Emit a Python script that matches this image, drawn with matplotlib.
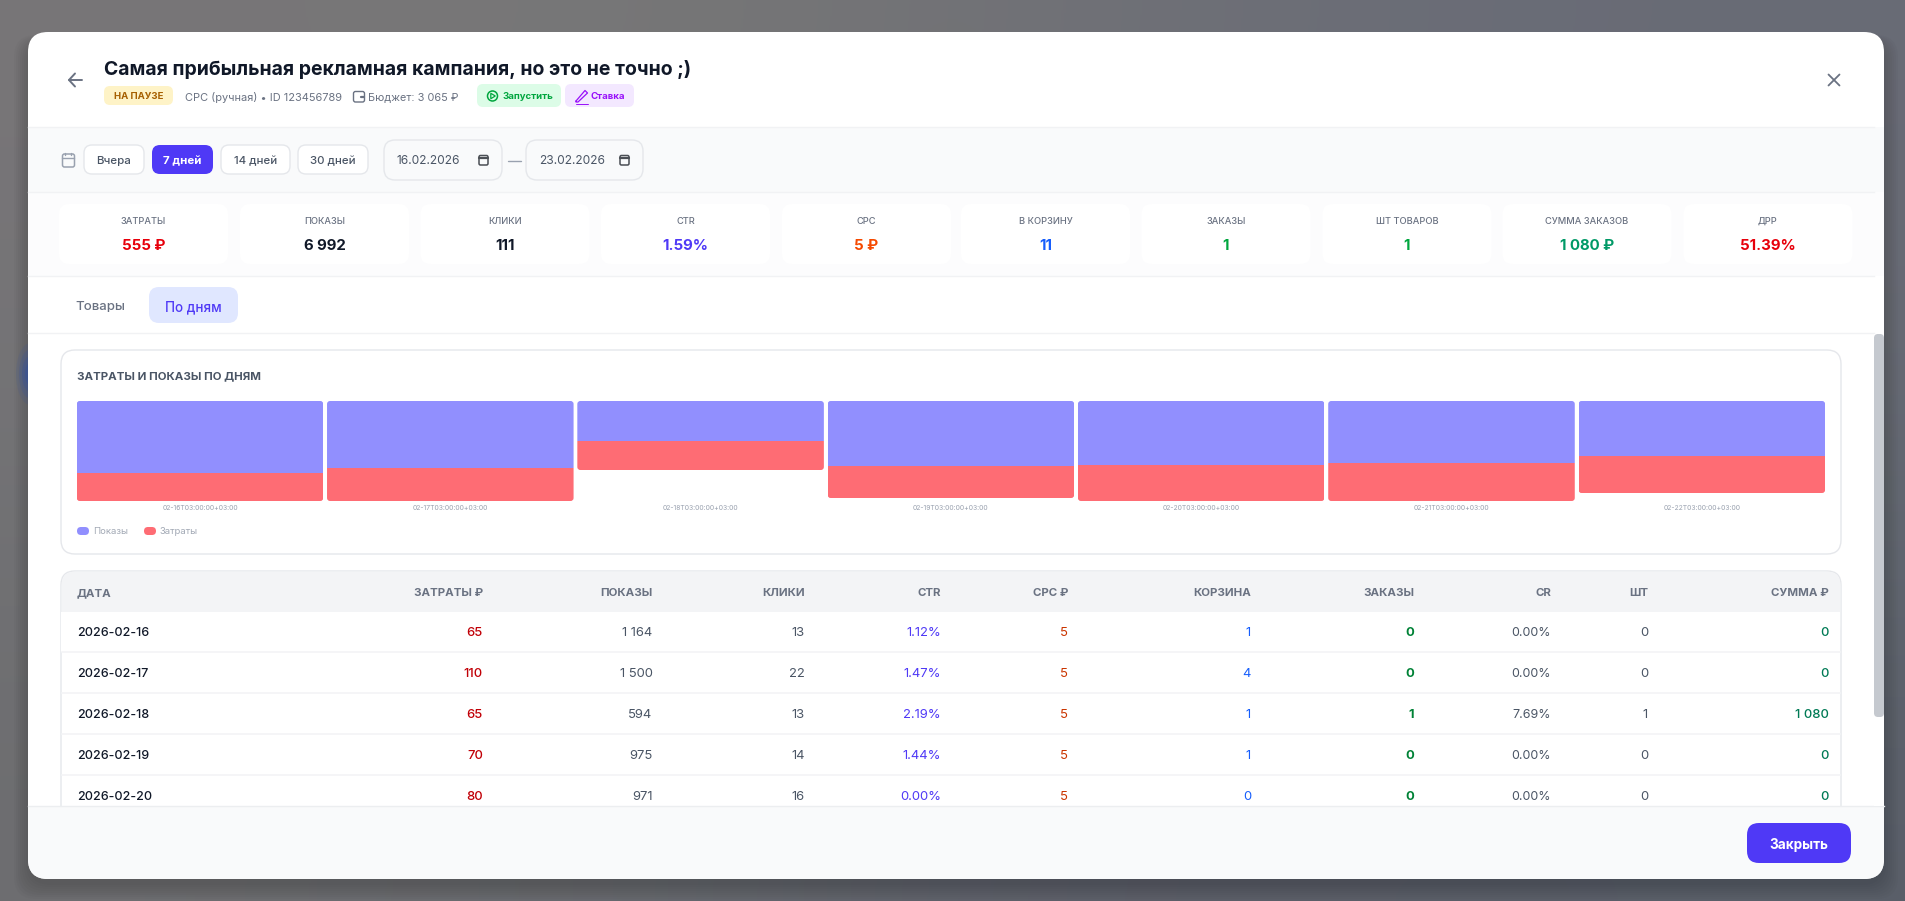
import numpy as np
import matplotlib
matplotlib.use("Agg")
import matplotlib.pyplot as plt
from matplotlib.patches import FancyBboxPatch, Circle, Rectangle, Ellipse
from matplotlib.transforms import IdentityTransform

plt.rcParams['font.family'] = ['Inter', 'Noto Sans', 'DejaVu Sans']

W, H = 1906, 901

# chart values, read as bar lengths off the picture
days = ["02-16T03:00:00+03:00", "02-17T03:00:00+03:00", "02-18T03:00:00+03:00",
        "02-19T03:00:00+03:00", "02-20T03:00:00+03:00", "02-21T03:00:00+03:00",
        "02-22T03:00:00+03:00"]
shows_bar = [72, 67, 40, 65, 64, 62, 55]
costs_bar = [28, 33, 29, 32, 36, 38, 37]

# kpi row
kpi_labels = ["ЗАТРАТЫ", "ПОКАЗЫ", "КЛИКИ", "CTR", "CPC", "В КОРЗИНУ", "ЗАКАЗЫ",
              "ШТ ТОВАРОВ", "СУММА ЗАКАЗОВ", "ДРР"]
kpi_values = ["555 ₽", "6 992", "111", "1.59%", "5 ₽", "11", "1", "1", "1 080 ₽", "51.39%"]
kpi_colors = ["#e7000b", "#101828", "#101828", "#4f39f6", "#f54900", "#155dfc",
              "#00a63e", "#00a63e", "#009966", "#e7000b"]

# table columns
col_heads = ["ЗАТРАТЫ ₽", "ПОКАЗЫ", "КЛИКИ", "CTR", "CPC ₽", "КОРЗИНА", "ЗАКАЗЫ", "CR", "ШТ", "СУММА ₽"]
dates = ["2026-02-16", "2026-02-17", "2026-02-18", "2026-02-19", "2026-02-20"]
t_costs = ["65", "110", "65", "70", "80"]
t_shows = ["1 164", "1 500", "594", "975", "971"]
t_clicks = ["13", "22", "13", "14", "16"]
t_ctr = ["1.12%", "1.47%", "2.19%", "1.44%", "0.00%"]
t_cpc = ["5", "5", "5", "5", "5"]
t_cart = ["1", "4", "1", "1", "0"]
t_orders = ["0", "0", "1", "0", "0"]
t_cr = ["0.00%", "0.00%", "7.69%", "0.00%", "0.00%"]
t_pcs = ["0", "0", "1", "0", "0"]
t_sum = ["0", "0", "1 080", "0", "0"]

fig = plt.figure(figsize=(W / 100, H / 100), dpi=100)
ax = fig.add_axes([0, 0, 1, 1])
ax.set_xlim(0, W)
ax.set_ylim(H, 0)
ax.axis("off")


def box(x0, y0, x1, y1, r, fc, ec="none", lw=1.0, z=2, clip=None):
    p = FancyBboxPatch((x0 + r, y0 + r), x1 - x0 - 2 * r, y1 - y0 - 2 * r,
                       boxstyle=f"round,pad={r},rounding_size={r}",
                       fc=fc, ec=ec, lw=lw, zorder=z)
    ax.add_patch(p)
    if clip is not None:
        p.set_clip_path(clip)
    return p


def txt(x, y, s, px, color, weight="normal", ha="left", z=6):
    return ax.text(x, y, s, fontsize=px * 0.72, color=color, fontweight=weight,
                   ha=ha, va="center_baseline", zorder=z)


def line(xs, ys, color, lw=1.2, z=6):
    ax.plot(xs, ys, color=color, lw=lw, zorder=z, solid_capstyle="round", solid_joinstyle="round")


# backdrop
bg = np.array([[[0.47, 0.46, 0.47], [0.47, 0.47, 0.47], [0.45, 0.45, 0.46], [0.42, 0.43, 0.47], [0.41, 0.42, 0.46]],
               [[0.45, 0.45, 0.46], [0.44, 0.44, 0.45], [0.41, 0.42, 0.45], [0.40, 0.41, 0.45], [0.39, 0.41, 0.45]],
               [[0.43, 0.43, 0.44], [0.40, 0.41, 0.43], [0.36, 0.37, 0.41], [0.35, 0.36, 0.40], [0.35, 0.37, 0.41]]])
ax.imshow(bg, extent=(0, W, H, 0), aspect="auto", interpolation="bicubic", zorder=0)
ax.set_xlim(0, W)
ax.set_ylim(H, 0)
for s in range(8):
    box(28 - s * 2, 32 - s + 10, 1884 + s * 2, 879 + s * 2 + 6, 22, "black", z=1).set_alpha(0.018)
# blue blob left of the modal
for s, a in zip([28, 22, 16, 10], [0.12, 0.18, 0.24, 0.3]):
    ax.add_patch(Ellipse((30, 374), s, s * 2.2, fc="#2b4fa8", ec="none", alpha=a, zorder=1))

# modal
modal = box(28, 32, 1884, 879, 20, "white", z=2)

# filter and kpi bands
ax.add_patch(Rectangle((28, 127), 1856, 65, fc="#f9fafb", ec="none", zorder=2))
ax.add_patch(Rectangle((28, 192), 1856, 84, fc="#fcfcfd", ec="none", zorder=2))
for y in [127, 192, 276, 333]:
    ax.plot([28, 1874], [y, y], color="#f1f2f4", lw=1, zorder=3)

# header
line([69, 82], [80, 80], "#6a7282", 1.4)
line([75, 69, 75], [73.5, 80, 86.5], "#6a7282", 1.4)
txt(104, 67.6, "Самая прибыльная рекламная кампания, но это не точно ;)", 19.4, "#101828", "bold")
box(104, 86, 173, 105, 6, "#fef3c7")
txt(138.5, 95.5, "НА ПАУЗЕ", 9.6, "#a65f00", "bold", "center")
txt(185.5, 96.5, "CPC (ручная) • ID 123456789", 11, "#6a7282")
box(353.5, 91.5, 364.5, 102, 2, "none", ec="#6a7282", lw=1)
line([361, 364.5], [97, 97], "#6a7282", 1.6)
txt(368.5, 96.5, "Бюджет: 3 065 ₽", 10.9, "#6a7282")
box(477, 84, 561, 107, 6, "#dcfce7")
ax.add_patch(Circle((492.5, 96), 5, fc="none", ec="#00a63e", lw=1.1, zorder=6))
ax.fill([490.8, 490.8, 495.3], [93.3, 98.7, 96], fc="none", ec="#00a63e", lw=0.9, zorder=6)
txt(503, 95.5, "Запустить", 9.6, "#00a63e", "bold")
box(565, 84, 634, 107, 6, "#f3e8ff")
line([576, 585, 587.5, 578, 576, 576], [101, 90.5, 93, 102, 102, 101], "#9810fa", 0.9)
line([576, 588], [104, 104], "#9810fa", 0.7)
txt(591, 95.5, "Ставка", 9.6, "#9810fa", "bold")
line([1828.5, 1839.5], [74.5, 85.5], "#6a7282", 1.3)
line([1839.5, 1828.5], [74.5, 85.5], "#6a7282", 1.3)

# period filters
box(62.5, 154, 74.5, 167, 2, "none", ec="#99a1af", lw=1.1, z=6)
line([62.5, 74.5], [158, 158], "#99a1af", 1)
line([65.5, 65.5], [152.5, 155], "#99a1af", 1)
line([71.5, 71.5], [152.5, 155], "#99a1af", 1)
periods = [("Вчера", 84, 144), ("7 дней", 152, 213), ("14 дней", 221, 290), ("30 дней", 298, 368)]
for name, x0, x1 in periods:
    active = name == "7 дней"
    box(x0, 145, x1, 174, 8, "#4f39f6" if active else "white", ec="none" if active else "#e5e7eb")
    txt((x0 + x1) / 2, 160, name, 11.5, "white" if active else "#4a5565", "bold" if active else "medium", "center")
for x0, x1, s in [(384, 502, "16.02.2026"), (526, 643, "23.02.2026")]:
    box(x0, 140, x1, 180, 11, "#f9fafb", ec="#e5e7eb")
    txt(x0 + 13, 160, s, 12, "#4a5565")
    box(x1 - 23, 155.5, x1 - 14, 165, 1.5, "none", ec="#4b4f55", lw=1.1, z=6)
    line([x1 - 23, x1 - 14], [157.5, 157.5], "#4b4f55", 1.6)
line([508, 521], [161, 161], "#99a1af", 1)

# kpi cards
card_l = [59, 240, 420.5, 601, 782, 961, 1141.5, 1322.5, 1502.5, 1683.5]
for i in range(len(kpi_labels)):
    x0 = card_l[i]
    box(x0, 204, x0 + 169, 264, 10, "white")
    txt(x0 + 84.5, 220, kpi_labels[i], 9.3, "#6a7282", "medium", "center")
    txt(x0 + 84.5, 244, kpi_values[i], 15, kpi_colors[i], "bold", "center")

# tabs
box(149, 287, 238, 323, 10, "#e0e7ff")
txt(100.5, 305.5, "Товары", 13.2, "#6a7282", "medium", "center")
txt(193.5, 305.5, "По дням", 13.4, "#4f39f6", "medium", "center")

# chart card
box(61, 350, 1841, 554, 14, "white", ec="#e5e7eb", z=2)
txt(77, 375.5, "ЗАТРАТЫ И ПОКАЗЫ ПО ДНЯМ", 11.5, "#4a5565", "bold")

bar_ax = fig.add_axes([77 / W, 1 - 501 / H, (1825 - 77) / W, 100 / H])
bar_ax.patch.set_alpha(0)
xs = np.arange(len(days))
bar_ax.set_xlim((77 - 200) / 250.3, (1825 - 200) / 250.3)
bar_ax.set_ylim(100, 0)
b1 = bar_ax.bar(xs, shows_bar, width=0.985, color="#918ffe")
b2 = bar_ax.bar(xs, costs_bar, width=0.985, bottom=shows_bar, color="#fe6c74")
bar_ax.set_xticks(xs, days, fontsize=4.9, color="#99a1af")
bar_ax.tick_params(axis="x", length=0, pad=3.2)
bar_ax.set_yticks([])
for sp in bar_ax.spines.values():
    sp.set_visible(False)
# round the outer corners of each column
for i in range(len(days)):
    total = shows_bar[i] + costs_bar[i]
    (x0, y0) = bar_ax.transData.transform((i - 0.4925, 0))
    (x1, y1) = bar_ax.transData.transform((i + 0.4925, total))
    rr = 3
    yb, yt = min(y0, y1), max(y0, y1)
    clip = FancyBboxPatch((x0 + rr, yb + rr), x1 - x0 - 2 * rr, yt - yb - 2 * rr,
                          boxstyle=f"round,pad={rr},rounding_size={rr}",
                          transform=IdentityTransform())
    b1[i].set_clip_path(clip)
    b2[i].set_clip_path(clip)

box(77, 527, 89, 535, 4, "#918ffe")
txt(93, 531, "Показы", 9.5, "#a2a9b5")
box(144, 527, 156, 535, 4, "#fe6c74")
txt(159, 531, "Затраты", 9.5, "#a2a9b5")

# table
box(61, 571, 1841, 830, 14, "white", ec="#e5e7eb", z=2)
box(61.5, 571.5, 1840.5, 640, 14, "#f3f4f6", z=3)
ax.add_patch(Rectangle((61.5, 612), 1779, 40, fc="white", ec="none", zorder=3))
txt(77, 592.5, "ДАТА", 11.5, "#6a7282", "bold")
col_right = [483, 652.5, 805, 941, 1068, 1251, 1414, 1551, 1648, 1829]
for x, s in zip(col_right, col_heads):
    txt(x, 592.5, s, 11.5, "#6a7282", "bold", "right")
for y in [652, 693, 734, 775]:
    ax.plot([62, 1840], [y, y], color="#f3f4f6", lw=1.2, zorder=3)
row_y = [631.5, 672.3, 713.3, 754.3, 795.3]
for i, y in enumerate(row_y):
    txt(77, y, dates[i], 12.5, "#101828", "medium")
    txt(col_right[0], y, t_costs[i], 13, "#c10007", "medium", "right")
    txt(col_right[1], y, t_shows[i], 13, "#4a5565", "normal", "right")
    txt(col_right[2], y, t_clicks[i], 13, "#4a5565", "normal", "right")
    txt(col_right[3], y, t_ctr[i], 13, "#4f39f6", "normal", "right")
    txt(col_right[4], y, t_cpc[i], 13, "#ca3500", "normal", "right")
    txt(col_right[5], y, t_cart[i], 13, "#155dfc", "normal", "right")
    txt(col_right[6], y, t_orders[i], 13, "#008236", "bold", "right")
    txt(col_right[7], y, t_cr[i], 12.5, "#4a5565", "normal", "right")
    txt(col_right[8], y, t_pcs[i], 13, "#4a5565", "normal", "right")
    txt(col_right[9], y, t_sum[i], 13, "#007a55", "medium", "right")

# footer
foot = Rectangle((28, 806), 1856, 73, fc="#f9fafb", ec="none", zorder=7)
ax.add_patch(foot)
foot.set_clip_path(modal)
ax.plot([28, 1884], [806, 806], color="#eceef0", lw=1, zorder=8)
box(1747, 823, 1851, 863, 12, "#4f39f6", z=8)
txt(1799, 843, "Закрыть", 13.5, "white", "bold", "center", z=9)

# scrollbar
ax.add_patch(Rectangle((1874, 334), 10, 472, fc="white", ec="none", zorder=9))
box(1874, 334, 1884, 717, 4, "#c5c9cf", z=10)

fig.savefig("out.png", dpi=100)
